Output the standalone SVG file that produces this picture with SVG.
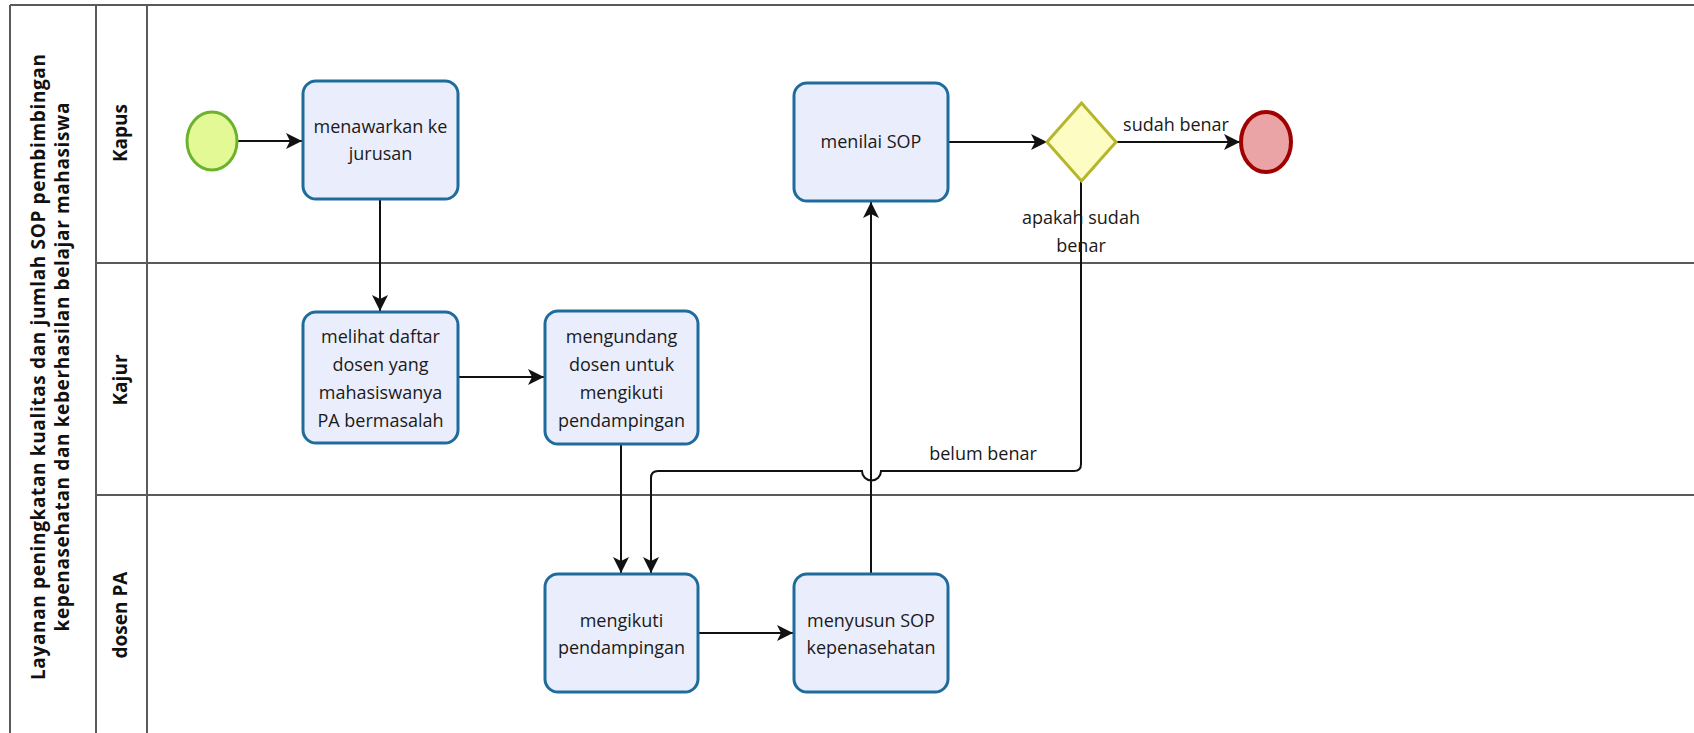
<svg xmlns="http://www.w3.org/2000/svg" width="1694" height="733" viewBox="0 0 1694 733">
<defs>
<style>
.lane{stroke:#5a5a5a;stroke-width:2;fill:none}
.task{fill:#eaeefc;stroke:#1f6c9c;stroke-width:3}
.tt{font-family:"Open Sans","Noto Sans","Liberation Sans",sans-serif;font-size:18px;fill:#1a1a1a;text-anchor:middle}
.hd{font-family:"Open Sans","Noto Sans","Liberation Sans",sans-serif;font-size:19px;font-weight:bold;fill:#111;text-anchor:middle}
.edge{stroke:#111;stroke-width:2;fill:none}
.lbl{font-family:"Open Sans","Noto Sans","Liberation Sans",sans-serif;font-size:18px;fill:#1a1a1a;text-anchor:middle}
</style>
<marker id="arr" markerUnits="userSpaceOnUse" markerWidth="18" markerHeight="18" viewBox="0 0 18 18" refX="17" refY="9" orient="auto">
<path d="M1,1 L17,9 L1,17 L5,9 Z" fill="#111"/>
</marker>
</defs>
<rect x="0" y="0" width="1694" height="733" fill="#ffffff"/>
<g id="pool">
<path class="lane" d="M10,5 H1694 M10,5 V733 M96,5 V733 M147,5 V733 M96,263 H1694 M96,495 H1694"/>
<text class="hd" transform="translate(45,367) rotate(-90)" textLength="626" lengthAdjust="spacing">Layanan peningkatan kualitas dan jumlah SOP pembimbingan</text>
<text class="hd" transform="translate(69,367) rotate(-90)" textLength="529" lengthAdjust="spacing">kepenasehatan dan keberhasilan belajar mahasiswa</text>
</g>
<g id="lane-kapus"><text class="hd" transform="translate(127,133) rotate(-90)">Kapus</text></g>
<g id="lane-kajur"><text class="hd" transform="translate(127,380) rotate(-90)">Kajur</text></g>
<g id="lane-dosen"><text class="hd" transform="translate(127,615) rotate(-90)">dosen PA</text></g>
<g id="connectors">
<path class="edge" marker-end="url(#arr)" d="M238,141 H302"/>
<path class="edge" marker-end="url(#arr)" d="M380,199 V311"/>
<path class="edge" marker-end="url(#arr)" d="M458,377 H544"/>
<path class="edge" marker-end="url(#arr)" d="M621,444 V573"/>
<path class="edge" marker-end="url(#arr)" d="M698,633 H793"/>
<path class="edge" marker-end="url(#arr)" d="M871,573 V202"/>
<path class="edge" marker-end="url(#arr)" d="M949,142 H1047"/>
<path class="edge" marker-end="url(#arr)" d="M1116,142 H1240"/>
<path class="edge" marker-end="url(#arr)" d="M1081,181 V464 Q1081,471 1074,471 H881 A9.5,9.5 0 0 1 862,471 H658 Q651,471 651,478 V573"/>
<text class="lbl" x="1176" y="131">sudah benar</text>
<text class="lbl" x="983" y="460">belum benar</text>
</g>
<g id="start"><ellipse cx="212" cy="141" rx="25" ry="29" fill="#e3f996" stroke="#6db22c" stroke-width="3"/></g>
<g id="task-menawarkan"><rect class="task" x="303" y="81" width="155" height="118" rx="13"/><text class="tt" x="380.5" y="133">menawarkan ke</text><text class="tt" x="380.5" y="160">jurusan</text></g>
<g id="task-melihat"><rect class="task" x="303" y="312" width="155" height="131" rx="13"/><text class="tt" x="380.5" y="343">melihat daftar</text><text class="tt" x="380.5" y="371">dosen yang</text><text class="tt" x="380.5" y="399">mahasiswanya</text><text class="tt" x="380.5" y="427">PA bermasalah</text></g>
<g id="task-mengundang"><rect class="task" x="545" y="311" width="153" height="133" rx="13"/><text class="tt" x="621.5" y="343">mengundang</text><text class="tt" x="621.5" y="371">dosen untuk</text><text class="tt" x="621.5" y="399">mengikuti</text><text class="tt" x="621.5" y="427">pendampingan</text></g>
<g id="task-mengikuti"><rect class="task" x="545" y="574" width="153" height="118" rx="13"/><text class="tt" x="621.5" y="627">mengikuti</text><text class="tt" x="621.5" y="654">pendampingan</text></g>
<g id="task-menyusun"><rect class="task" x="794" y="574" width="154" height="118" rx="13"/><text class="tt" x="871" y="627">menyusun SOP</text><text class="tt" x="871" y="654">kepenasehatan</text></g>
<g id="task-menilai"><rect class="task" x="794" y="83" width="154" height="118" rx="13"/><text class="tt" x="871" y="148">menilai SOP</text></g>
<g id="gateway"><path d="M1081.5,103 L1116,142 L1081.5,181 L1047,142 Z" fill="#fdfdc3" stroke="#b6b62c" stroke-width="3"/><text class="lbl" x="1081" y="224">apakah sudah</text><text class="lbl" x="1081" y="252">benar</text></g>
<g id="end"><ellipse cx="1266" cy="142" rx="25" ry="30" fill="#eba4a6" stroke="#a10000" stroke-width="4"/></g>
</svg>
